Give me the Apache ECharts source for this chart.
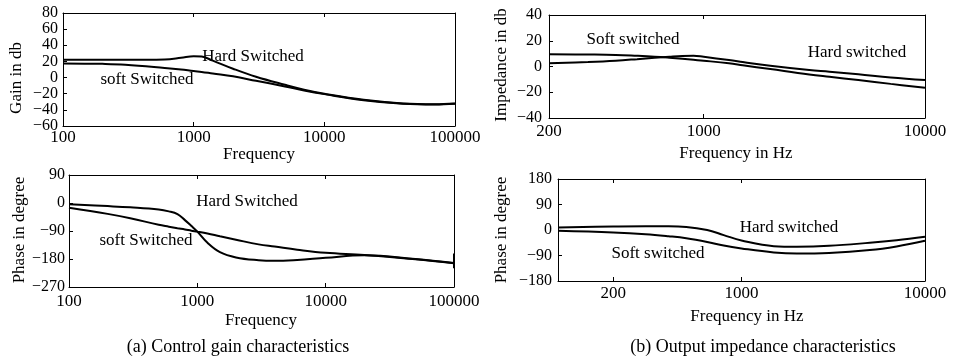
<!DOCTYPE html>
<html>
<head>
<meta charset="utf-8">
<script src="https://cdn.jsdelivr.net/npm/echarts@6/dist/echarts.min.js"></script>
<style>
  html, body { margin: 0; padding: 0; background: #fff; }
  #myChart { width: 954px; height: 359px; }
</style>
</head>
<body>
<div id="myChart"></div>
<script>
// (a) control gain, magnitude
var gainFreq = [100, 200, 300, 600, 800, 1000, 1150, 1400, 2000, 3000, 5000, 7000, 10000, 20000, 40000, 70000, 100000]
var gainHard = [22, 22, 22, 22.5, 24.5, 26.5, 26, 21, 11, 1, -9, -15, -20, -27.5, -32, -33, -32]
var gainSoft = [17.5, 17, 16, 12, 10, 8, 7, 5, 1.5, -4, -11, -16, -20.5, -28, -32.5, -33.5, -32.5]

// (a) control gain, phase
var phaseFreq = [100, 200, 300, 500, 600, 700, 800, 900, 1000, 1200, 1500, 2000, 3000, 4000, 6000, 10000, 20000, 50000, 100000]
var phaseHard = [-4, -10, -14, -21, -27, -36, -55, -74, -92, -128, -158, -175, -184, -186, -183, -176, -168, -180, -193]
var phaseSoft = [-15, -35, -49, -70, -76, -81, -85, -89, -92, -98, -107, -118, -133, -140, -150, -160, -167, -181, -194]
var spikeFreq = [100000, 100000, 100000]
var spikeVals = [-193, -162, -210]

// (b) output impedance, magnitude
var impFreq = [200, 300, 400, 500, 600, 700, 800, 900, 1000, 1300, 1500, 2000, 3000, 3700, 5000, 7000, 10000]
var impSoft = [9.5, 9.3, 9, 8.3, 7.6, 6.8, 6, 5.2, 4.5, 2.5, 1, -2, -6.2, -8, -10.5, -13.5, -16.5]
var impHard = [2.5, 3.5, 4.5, 5.7, 6.8, 7.6, 8.2, 8.4, 7.5, 5, 3.5, 0.5, -2.8, -4, -6, -8.5, -10.5]

// (b) output impedance, phase
var zphFreq = [100, 200, 300, 400, 500, 650, 800, 1000, 1500, 2000, 3000, 5000, 7000, 10000]
var zphHard = [9, 12, 13, 13, 11, 0, -18, -37, -57, -59, -56, -45, -36, -24]
var zphSoft = [-3, -9, -15, -22, -29, -42, -55, -65, -79, -83, -81, -71, -58, -38]

// tick labels
var ticksA = [100, 1000, 10000, 100000]
var ticksB1 = [200, 1000, 10000]
var ticksB2 = [200, 1000, 10000]

var font = 'Liberation Serif'
var fs = 17

function pairs (xs, ys) {
  return xs.map(function (x, i) { return [x, ys[i]] })
}

function xAxes (gi, min, max, ticks, margin) {
  var bottom = {
    type: 'log', logBase: 10, gridIndex: gi, min: min, max: max, position: 'bottom',
    axisLine: { show: true, onZero: false, lineStyle: { color: '#000', width: 1 } },
    axisTick: { show: true, inside: true, length: 4, customValues: ticks, lineStyle: { color: '#000' } },
    axisLabel: {
      show: true, customValues: ticks, margin: margin, color: '#000', fontFamily: font, fontSize: fs,
      formatter: function (v) { return String(Math.round(v)) }
    },
    splitLine: { show: false }, minorTick: { show: false }
  }
  var top = {
    type: 'log', logBase: 10, gridIndex: gi, min: min, max: max, position: 'top',
    axisLine: { show: true, onZero: false, lineStyle: { color: '#000', width: 1 } },
    axisTick: { show: true, inside: true, length: 4, customValues: ticks, lineStyle: { color: '#000' } },
    axisLabel: { show: false },
    splitLine: { show: false }
  }
  return [bottom, top]
}

function yAxes (gi, min, max, step, margin) {
  var left = {
    type: 'value', gridIndex: gi, min: min, max: max, interval: step, position: 'left',
    axisLine: { show: true, onZero: false, lineStyle: { color: '#000', width: 1 } },
    axisTick: { show: true, inside: true, length: 4, lineStyle: { color: '#000' } },
    axisLabel: {
      margin: margin, color: '#000', fontFamily: font, fontSize: 16,
      formatter: function (v) { return String(v).replace('-', '\u2212') }
    },
    splitLine: { show: false }
  }
  var right = {
    type: 'value', gridIndex: gi, min: min, max: max, interval: step, position: 'right',
    axisLine: { show: true, onZero: false, lineStyle: { color: '#000', width: 1 } },
    axisTick: { show: false },
    axisLabel: { show: false },
    splitLine: { show: false }
  }
  return [left, right]
}

function line (ai, xs, ys, smooth) {
  return {
    type: 'line', xAxisIndex: ai, yAxisIndex: ai,
    data: pairs(xs, ys),
    smooth: smooth, showSymbol: false, symbol: 'none',
    lineStyle: { color: '#000', width: 2 },
    silent: true
  }
}

function label (text, x, y, rot, size) {
  return {
    type: 'text', x: x, y: y, rotation: rot || 0,
    style: {
      text: text, fill: '#000', font: (size || fs) + 'px "' + font + '"',
      textAlign: 'center', textVerticalAlign: 'middle'
    }
  }
}

var myChart = echarts.init(document.getElementById('myChart'))
myChart.setOption({
  animation: false,
  backgroundColor: '#fff',
  grid: [
    { left: 63, top: 13, width: 392, height: 113 },
    { left: 549, top: 15, width: 376, height: 103 },
    { left: 69, top: 175, width: 385, height: 112 },
    { left: 558, top: 179, width: 367, height: 102 }
  ],
  xAxis: [].concat(
    xAxes(0, 100, 100000, ticksA, 3),
    xAxes(1, 200, 10000, ticksB1, 5),
    xAxes(2, 100, 100000, ticksA, 6),
    xAxes(3, 100, 10000, ticksB2, 4)
  ),
  yAxis: [].concat(
    yAxes(0, -60, 80, 20, 5),
    yAxes(1, -40, 40, 20, 7),
    yAxes(2, -270, 90, 90, 4),
    yAxes(3, -180, 180, 90, 6)
  ),
  series: [
    line(0, gainFreq, gainHard, 0.4),
    line(0, gainFreq, gainSoft, 0.4),
    line(2, impFreq, impSoft, 0.4),
    line(2, impFreq, impHard, 0.4),
    line(4, phaseFreq, phaseHard, 0.4),
    line(4, phaseFreq, phaseSoft, 0.4),
    line(4, spikeFreq, spikeVals, false),
    line(6, zphFreq, zphHard, 0.4),
    line(6, zphFreq, zphSoft, 0.4)
  ],
  graphic: [
    label('Hard Switched', 253, 57),
    label('soft Switched', 147, 80),
    label('Soft switched', 633, 40),
    label('Hard switched', 857, 53),
    label('Hard Switched', 247, 202),
    label('soft Switched', 146, 241),
    label('Hard switched', 789, 228),
    label('Soft switched', 658, 254),
    label('Gain in db', 17, 78, Math.PI / 2),
    label('Impedance in db', 502, 65, Math.PI / 2),
    label('Phase in degree', 20, 230, Math.PI / 2),
    label('Phase in degree', 502, 230, Math.PI / 2),
    label('Frequency', 259, 155),
    label('Frequency in Hz', 736, 154),
    label('Frequency', 261, 321),
    label('Frequency in Hz', 747, 317),
    label('(a) Control gain characteristics', 238, 347, 0, 18),
    label('(b) Output impedance characteristics', 763, 347, 0, 18)
  ]
})
</script>
</body>
</html>
